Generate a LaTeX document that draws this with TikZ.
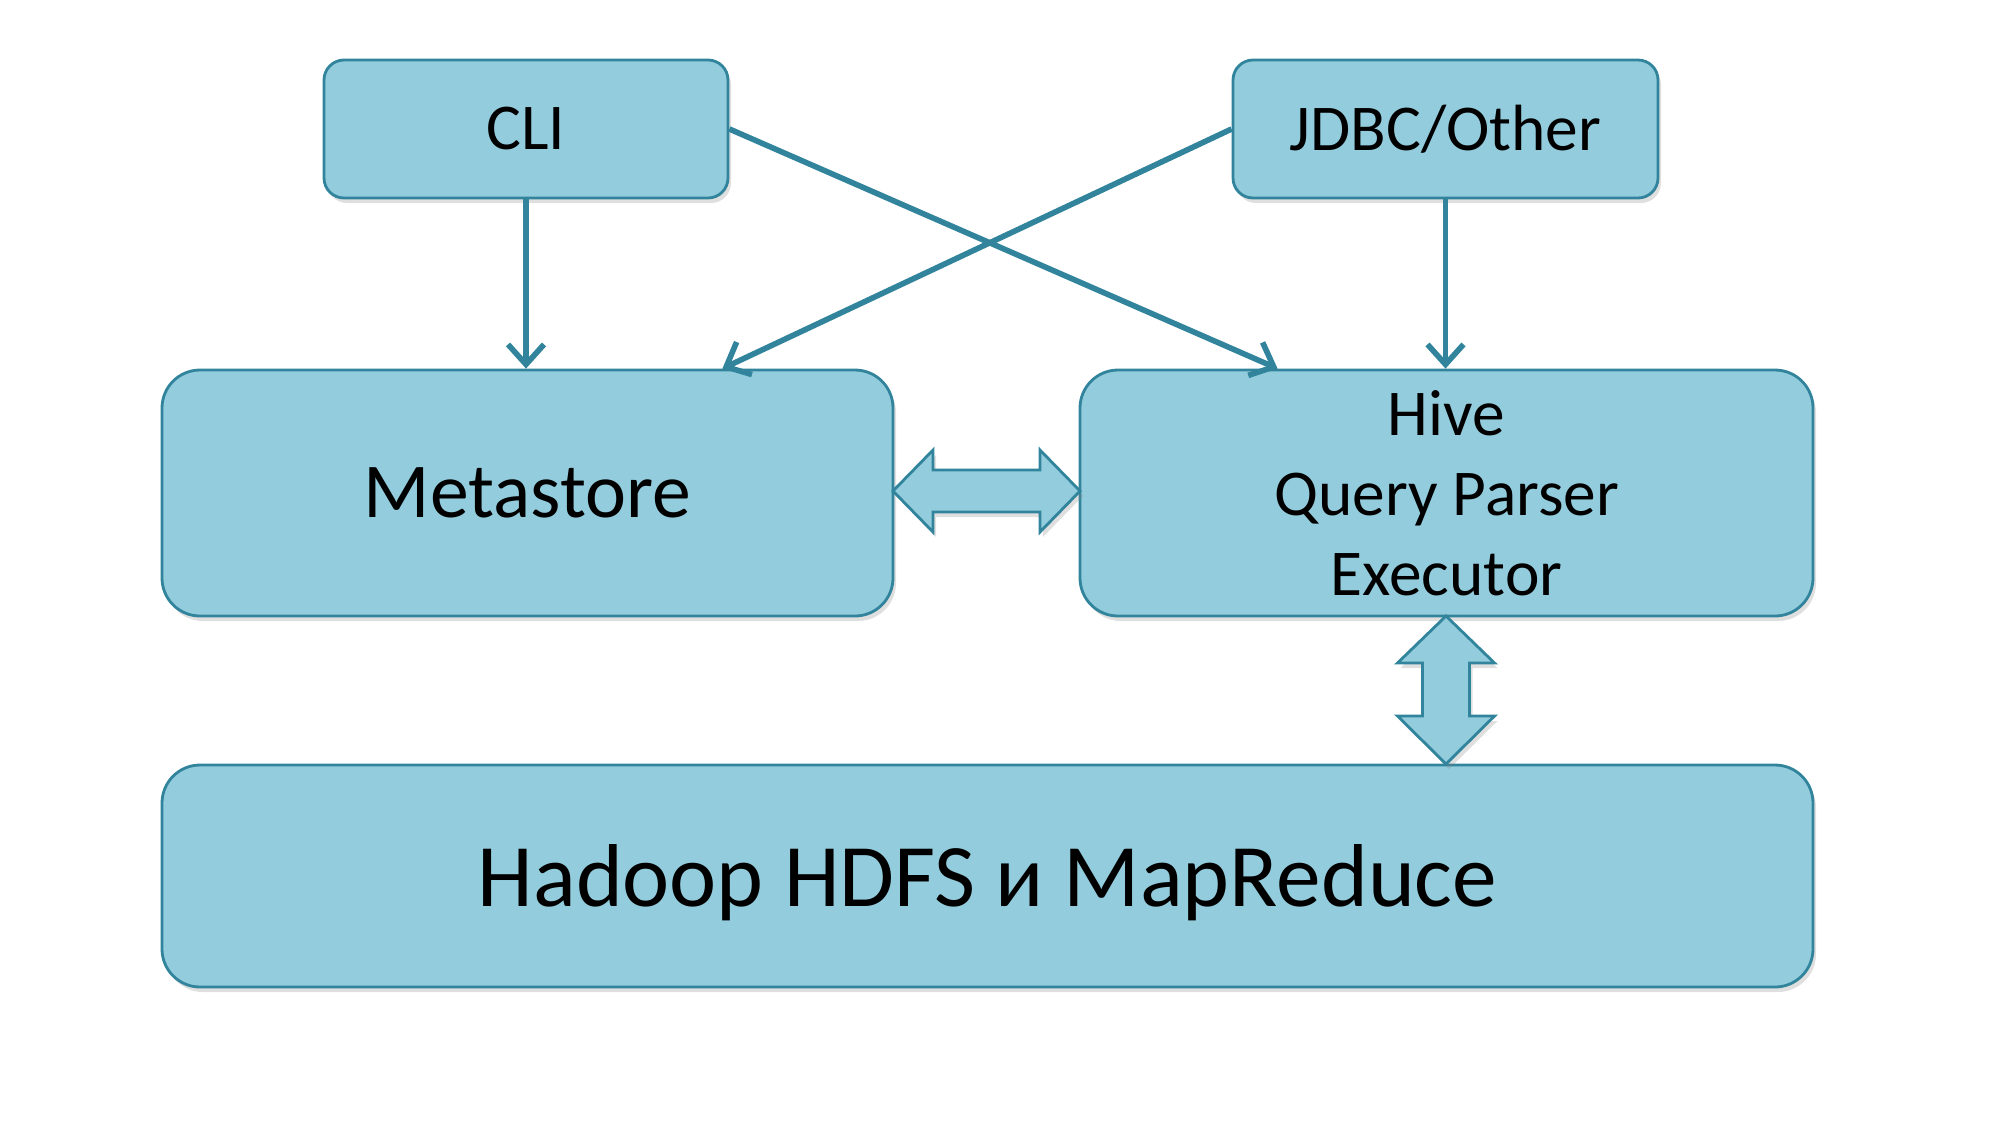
\documentclass[tikz,border=0pt]{standalone}
\usepackage{fontspec}
\setmainfont{Carlito}
\usetikzlibrary{arrows.meta,calc,shadows}
\definecolor{boxfill}{HTML}{93CDDD}
\definecolor{boxline}{HTML}{31849B}
\tikzset{
  blk/.style={draw=boxline,fill=boxfill,line width=0.8pt,rounded corners=0.2cm,
    drop shadow={opacity=0.25,shadow xshift=0.03cm,shadow yshift=-0.05cm},
    font=\fontsize{18.6}{22.7}\selectfont,align=center,inner sep=0pt},
  bigblk/.style={blk,rounded corners=0.38cm},
  link/.style={draw=boxline,line width=1.6pt,-{Straight Barb[length=0.2cm,width=0.36cm,line width=1.6pt]}},
  fatarrow/.style={draw=boxline,fill=boxfill,line width=0.8pt,line join=miter,
    drop shadow={opacity=0.25,shadow xshift=0.03cm,shadow yshift=-0.05cm}}
}
\begin{document}
\begin{tikzpicture}
		\useasboundingbox (0,0) rectangle (20,-11.25);
		\node[blk,minimum width=4.04cm,minimum height=1.38cm] (cli) at (5.26,-1.29) {CLI};
		\node[blk,minimum width=4.25cm,minimum height=1.38cm] (jdbc) at (14.455,-1.29) {JDBC/Other};
		\node[bigblk,minimum width=7.31cm,minimum height=2.46cm,font=\fontsize{22.1}{27}\selectfont] (meta) at (5.275,-4.93) {Metastore};
		\node[bigblk,minimum width=7.33cm,minimum height=2.46cm] (hive) at (14.465,-4.93) {Hive\\Query Parser\\Executor};
		\node[bigblk,minimum width=16.51cm,minimum height=2.22cm] (hadoop) at (9.875,-8.76) {};
		\node[font=\fontsize{25.4}{31}\selectfont,inner sep=0pt] (hadooptxt) at ($(hadoop.center)+(0,-0.07)$) {Hadoop HDFS и MapReduce};
		\coordinate (metain) at ($(meta.north east)+(-1.72,0)$);
		\coordinate (hivein) at ($(hive.north west)+(1.99,0)$);
		\draw[link] (cli.south) -- (cli.south |- meta.north);
		\draw[link] (jdbc.south) -- (jdbc.south |- hive.north);
		\draw[link] (cli.east) -- (hivein);
		\draw[link] (jdbc.west) -- (metain);
		% double arrows
		\draw[fatarrow] (8.93,-4.91) -- (9.33,-4.50) -- (9.33,-4.70) -- (10.40,-4.70) -- (10.40,-4.50)
			-- (10.80,-4.91) -- (10.40,-5.32) -- (10.40,-5.12) -- (9.33,-5.12) -- (9.33,-5.32) -- cycle;
		\draw[fatarrow] (14.46,-6.16) -- (14.945,-6.63) -- (14.695,-6.63) -- (14.695,-7.16) -- (14.945,-7.16)
			-- (14.46,-7.64) -- (13.975,-7.16) -- (14.225,-7.16) -- (14.225,-6.63) -- (13.975,-6.63) -- cycle;
\end{tikzpicture}
\end{document}
